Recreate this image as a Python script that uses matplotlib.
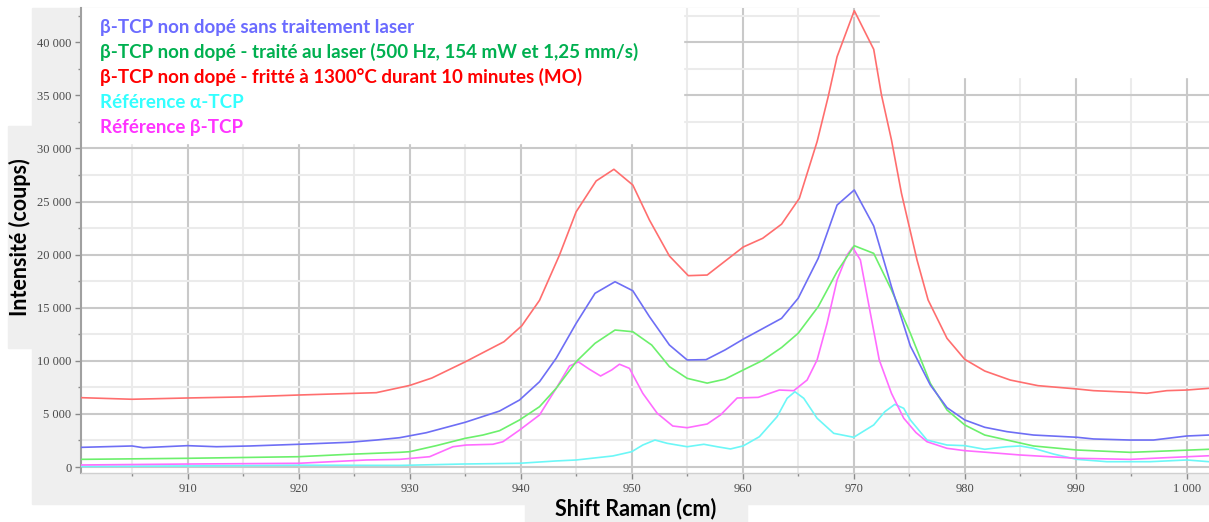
import matplotlib.pyplot as plt
from matplotlib.patches import Rectangle
from matplotlib.ticker import MultipleLocator, FuncFormatter

OUT = "out.png"

# tick labels of the original software are in a small serif face
plt.rcParams["font.family"] = ["Liberation Serif", "DejaVu Sans"]

# Raman spectra (shift in cm-1, counts)
red_x = [900.4, 905, 910, 915, 920, 927, 930, 932, 935, 938.5, 940.1, 941.7, 943.5, 945.0,
         946.8, 948.4, 950.1, 951.6, 953.4, 955.1, 956.8, 960.05, 961.8, 963.5, 965.1, 966.7,
         967.7, 968.5, 970.05, 971.8, 972.5, 973.4, 974.3, 975.7, 976.7, 978.4, 980.0, 981.8,
         984.1, 986.6, 990.1, 991.6, 994.9, 996.4, 998.2, 1000, 1002]
red_y = [6530, 6380, 6500, 6600, 6780, 7000, 7680, 8380, 9900, 11800, 13300, 15700, 19970, 24040,
         26940, 28040, 26560, 23260, 19870, 18020, 18080, 20720, 21540, 22870, 25300, 30640,
         34880, 38640, 42980, 39340, 35040, 30800, 25780, 19500, 15730, 12120, 10140, 9040,
         8190, 7660, 7350, 7190, 7040, 6940, 7190, 7250, 7410]

blue_x = [900.4, 905, 906, 910, 912.6, 915.6, 920, 924.6, 927, 929.1, 931.5, 935, 938.1, 939.9,
          941.7, 943.2, 945.0, 946.7, 948.5, 950.1, 951.6, 953.4, 955.0, 956.7, 958.4, 960.05,
          963.5, 965.0, 966.8, 968.5, 970.05, 971.8, 973.4, 975.1, 976.9, 978.4, 980.0, 981.8,
          983.8, 986.2, 990.1, 991.6, 994.9, 997.0, 1000, 1002]
blue_y = [1850, 1980, 1820, 2010, 1910, 1980, 2140, 2330, 2540, 2760, 3230, 4210, 5270, 6310,
          8030, 10240, 13530, 16360, 17450, 16600, 14160, 11490, 10080, 10110, 11020, 12040,
          14000, 15900, 19650, 24670, 26090, 22700, 16980, 11400, 7720, 5590, 4430, 3740,
          3330, 3010, 2800, 2640, 2540, 2540, 2920, 3010]

green_x = [900.4, 910, 920, 924.6, 929.1, 930, 932.4, 935, 936.6, 938.1, 939.9, 941.7, 943.2,
           945.0, 946.7, 948.5, 950.1, 951.8, 953.4, 955.0, 956.8, 958.4, 960.05, 961.8, 963.5,
           965.0, 966.8, 968.5, 970.05, 971.8, 973.4, 975.1, 976.9, 978.4, 980.0, 981.8, 983.8,
           986.2, 990.1, 994.9, 998.2, 1002]
green_y = [720, 820, 970, 1200, 1380, 1440, 2010, 2700, 3010, 3420, 4430, 5680, 7410,
           9920, 11650, 12900, 12740, 11490, 9450, 8350, 7900, 8270, 9140, 10040, 11250,
           12600, 15100, 18400, 20840, 20120, 16670, 12590, 7880, 5370, 3960, 3010, 2540,
           1980, 1600, 1380, 1510, 1670]

beta_x = [900.4, 910, 920, 926.1, 929.1, 931.8, 933.9, 935.1, 937.5, 938.4, 939.9, 941.7, 943.2,
          944.4, 945.2, 946.2, 947.2, 948.2, 948.9, 949.8, 951.0, 952.3, 953.7, 955.0, 956.8,
          958.0, 959.5, 961.4, 963.3, 964.6, 965.8, 966.7, 967.6, 968.5, 969.4, 969.9, 970.6,
          971.5, 972.3, 973.4, 974.5, 975.6, 976.6, 978.4, 980.0, 982.0, 985.0, 990.1, 994.9,
          998.2, 1002]
beta_y = [190, 280, 350, 660, 720, 970, 1910, 2070, 2140, 2380, 3480, 4900, 7410,
          9510, 9900, 9200, 8570, 9140, 9680, 9290, 6940, 5060, 3860, 3700, 4050,
          4900, 6500, 6560, 7250, 7190, 8190, 10080, 13530, 17610, 19970, 20690, 19500,
          14480, 10080, 6940, 4600, 3250, 2380, 1760, 1540, 1380, 1130, 820, 720,
          880, 1060]

alpha_x = [900.4, 910, 920, 929.1, 934.8, 939.9, 943.2, 945, 948.3, 950, 951.0, 952.1, 953.2,
           955.0, 956.5, 957.7, 958.9, 960.05, 961.5, 963.1, 964.0, 964.7, 965.5, 966.7, 968.2,
           970.0, 971.8, 972.8, 973.7, 974.5, 975.1, 976.6, 978.4, 980.0, 981.8, 983.8, 985.0,
           986.2, 988.0, 990.1, 992.8, 996.7, 1000, 1002]
alpha_y = [50, 100, 170, 150, 280, 350, 570, 660, 1040, 1440, 2070, 2540, 2230,
           1910, 2140, 1910, 1700, 1990, 2850, 4740, 6470, 7090, 6470, 4590, 3170,
           2800, 3960, 5210, 5900, 5530, 4430, 2540, 2070, 2010, 1670, 1910, 1980,
           1760, 1220, 720, 500, 500, 660, 500]

labels = ["β-TCP non dopé sans traitement laser",
          "β-TCP non dopé - traité au laser (500 Hz, 154 mW et 1,25 mm/s)",
          "β-TCP non dopé - fritté à 1300°C durant 10 minutes (MO)",
          "Référence α-TCP",
          "Référence β-TCP"]
label_colors = ["#6b6bff", "#00b050", "#ff0000", "#33ffff", "#ff33ff"]

W, H = 1209, 522


def fx(px):
    return px / W


def fy(py):
    return 1 - py / H


fig = plt.figure(figsize=(W / 100, H / 100), dpi=100)
fig.patch.set_facecolor("white")

# grey panels behind the plot and the axis titles
gray = "#efefef"
fig.patches.append(Rectangle((fx(32), fy(504)), fx(W - 32), (504 - 8) / H,
                             transform=fig.transFigure, color=gray, zorder=0))
fig.patches.append(Rectangle((fx(8), fy(348)), fx(26), (348 - 126) / H,
                             transform=fig.transFigure, color=gray, zorder=0))
fig.patches.append(Rectangle((fx(525), 0), fx(222), (522 - 493) / H,
                             transform=fig.transFigure, color=gray, zorder=0))

ax = fig.add_axes([fx(81), fy(473), 1 - fx(81), (473 - 8) / H])
ax.set_zorder(2)
ax.set_facecolor("white")
ax.set_xlim(900.4, 1002.0)
ax.set_ylim(-565, 43230)

ax.xaxis.set_major_locator(MultipleLocator(10))
ax.xaxis.set_minor_locator(MultipleLocator(5))
ax.yaxis.set_major_locator(MultipleLocator(5000))
ax.yaxis.set_minor_locator(MultipleLocator(2500))
sep = FuncFormatter(lambda v, p: f"{int(round(v)):,}".replace(",", " "))
ax.xaxis.set_major_formatter(sep)
ax.yaxis.set_major_formatter(sep)

ax.grid(which="major", color="#c9c9c9", lw=1.5, zorder=0)
ax.grid(which="minor", color="#ebebeb", lw=1.5, zorder=0)
ax.set_axisbelow(True)

for s in ["top", "right"]:
    ax.spines[s].set_visible(False)
ax.spines["left"].set_color("#a0a0a0")
ax.spines["left"].set_linewidth(1.5)
ax.spines["bottom"].set_color("#d0d0d0")
ax.spines["bottom"].set_linewidth(1.0)

ax.tick_params(which="both", colors="#8a8a8a", labelcolor="#4a4a4a", labelsize=9, width=1)
ax.tick_params(which="major", length=4, pad=3)
ax.tick_params(which="minor", length=2)

# white boxes hiding the grid (legend area and top right corner)
ax.add_patch(Rectangle((900.4, 30500), 954.6 - 900.4, 43230 - 30500,
                       color="white", zorder=1))
ax.add_patch(Rectangle((972.4, 36730), 1002 - 972.4, 43230 - 36730,
                       color="white", zorder=1))

lw = 1.2
ax.plot(alpha_x, alpha_y, color="#6cf7f7", lw=lw, zorder=3)
ax.plot(beta_x, beta_y, color="#ff6cff", lw=lw, zorder=3)
ax.plot(green_x, green_y, color="#6cf06c", lw=lw, zorder=3)
ax.plot(blue_x, blue_y, color="#6e6ef5", lw=lw, zorder=4)
ax.plot(red_x, red_y, color="#ff6e6e", lw=lw, zorder=4)

# legend written as coloured text lines
for i, (lab, c) in enumerate(zip(labels, label_colors)):
    fig.text(fx(100), fy(27 + 25 * i), lab, color=c, fontsize=13.5,
             fontweight="bold", family="Lato", va="center", ha="left", zorder=5)

fig.text(fx(20), fy(237), "Intensité (coups)", rotation=90, fontsize=15.5,
         fontweight="bold", family="Lato", va="center", ha="center")
fig.text(fx(636), fy(509), "Shift Raman (cm)", fontsize=15.5,
         fontweight="bold", family="Lato", va="center", ha="center")

fig.savefig(OUT, dpi=100, facecolor="white")
print(f"Saved -> {OUT}")
